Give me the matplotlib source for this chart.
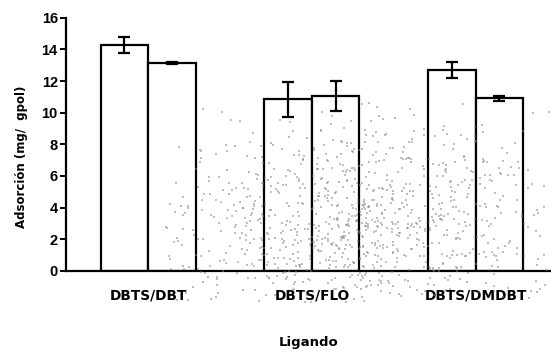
import matplotlib
matplotlib.use('Agg')
import matplotlib.pyplot as plt
import numpy as np

ligandos = ['DBTS/DBT', 'DBTS/FLO', 'DBTS/DMDBT']
serie_a = [14.3, 10.85, 12.7]
err_a = [0.5, 1.1, 0.5]
serie_b = [13.15, 11.05, 10.92]
err_b = [0.04, 0.97, 0.16]

plt.rcParams['font.family'] = ['DejaVu Sans']

fig = plt.figure(figsize=(5.51, 3.56), dpi=100)
ax = fig.add_axes([0.12, 0.239, 0.88, 0.711])

x = np.arange(len(ligandos))
w = 0.29
kw = dict(width=w, color='white', edgecolor='black', linewidth=1.6, zorder=2)
ax.bar(x - w / 2, serie_a, **kw)
ax.bar(x + w / 2, serie_b, **kw)
ekw = dict(fmt='none', ecolor='black', elinewidth=1.6, capsize=4.5, capthick=1.6, zorder=3)
ax.errorbar(x - w / 2, serie_a, yerr=err_a, **ekw)
ax.errorbar(x + w / 2, serie_b, yerr=err_b, **ekw)

# faint photocopy speckle, densest in the lower middle
rng = np.random.default_rng(7)
n = 1100
sx = rng.normal(0.67, 0.2, n)
sy = rng.normal(0.38, 0.14, n)
keep = (sx > 0.3) & (sx < 1.0) & (sy > 0.15) & (sy < 0.72)
ax.scatter(sx[keep], sy[keep], s=0.8, c='0.5', marker='s', linewidths=0,
           transform=fig.transFigure, zorder=4, clip_on=False, alpha=0.5)

ax.set_xlim(-0.5, 2.46)
ax.set_ylim(0, 16)
ax.set_yticks(range(0, 17, 2))
ax.set_xticks(x)
ax.set_xticklabels(ligandos, fontsize=9.8, fontweight='bold')
ax.tick_params(axis='x', length=0, pad=13)
ax.tick_params(axis='y', length=4, width=1.4, pad=2)
for lbl in ax.get_yticklabels():
    lbl.set_fontweight('bold')
    lbl.set_fontsize(10.5)
    lbl.set_family('Liberation Sans')
for s in ['top', 'right']:
    ax.spines[s].set_visible(False)
for s in ['left', 'bottom']:
    ax.spines[s].set_linewidth(1.6)

ax.set_ylabel('Adsorción (mg/  gpol)', fontsize=8.5, fontweight='bold')
ax.yaxis.set_label_coords(-0.078, 0.45)
ax.set_xlabel('Ligando', fontsize=9.5, fontweight='bold', labelpad=24)

fig.savefig('out.png', dpi=100)
